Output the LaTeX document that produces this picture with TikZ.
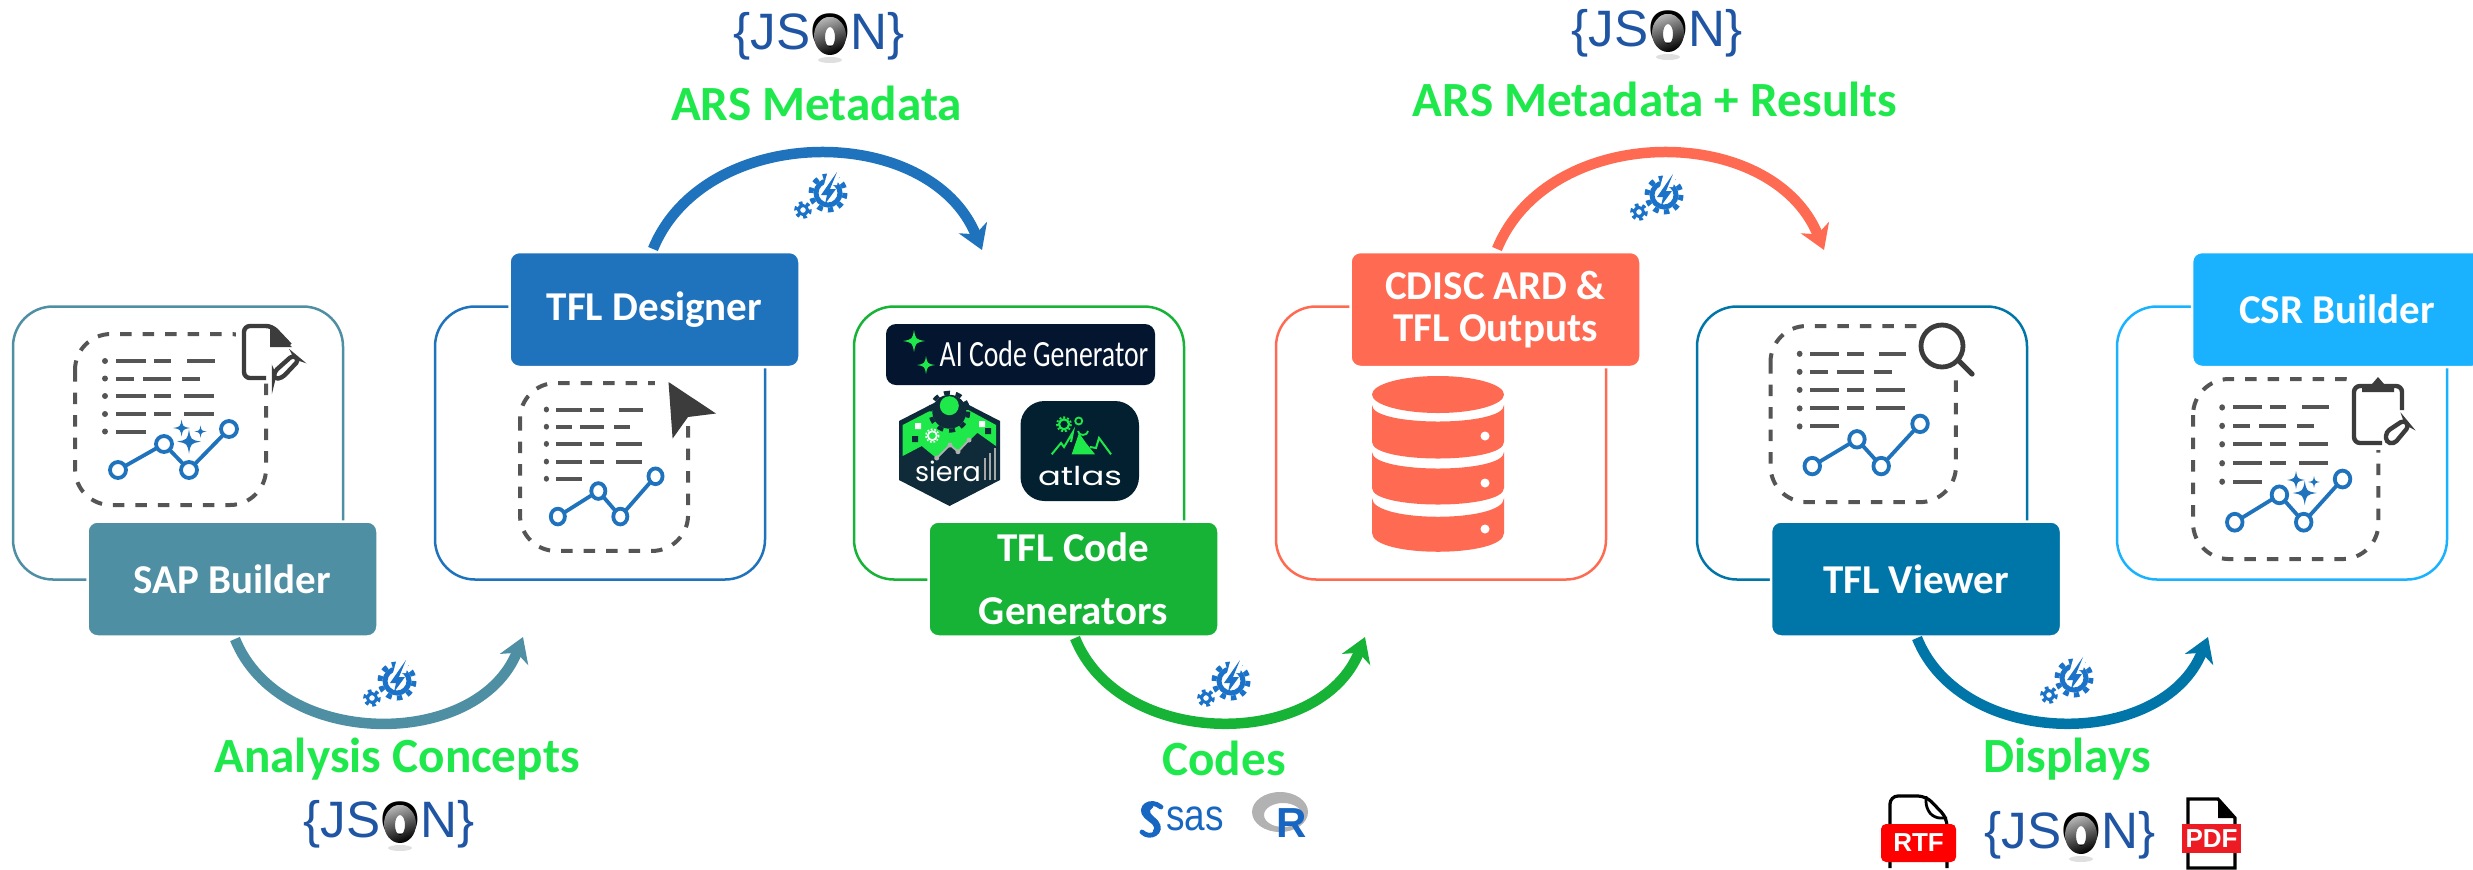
\documentclass[tikz,border=0pt]{standalone}
\usepackage{fontspec}
\setmainfont{Carlito}
\newfontfamily\jsonfont{Liberation Sans}
\newfontfamily\logofont{Poppins}
\usetikzlibrary{arrows.meta,shadings}
\definecolor{cteal}{HTML}{4E8FA3}
\definecolor{cblue}{HTML}{1F72BC}
\definecolor{cgreen}{HTML}{16B336}
\definecolor{corange}{HTML}{FF6B52}
\definecolor{cdeep}{HTML}{0075A8}
\definecolor{csky}{HTML}{1AB2FF}
\definecolor{clabel}{HTML}{1FE84C}
\definecolor{cjson}{HTML}{1F55A3}
\definecolor{cicon}{HTML}{3C3C3C}
\definecolor{cdash}{HTML}{555555}
\definecolor{cgear}{HTML}{1A73C8}
\definecolor{cmint}{HTML}{1EE84A}
\definecolor{cnavy}{HTML}{04152F}
\definecolor{csiera}{HTML}{0F2B3A}
\definecolor{catlas}{HTML}{02202F}
\definecolor{csas}{HTML}{1766C2}
\newcommand\sparkle[4]{\fill[#4] (#1,#2-#3) .. controls (#1+#3*0.15,#2-#3*0.15) .. (#1+#3,#2) .. controls (#1+#3*0.15,#2+#3*0.15) .. (#1,#2+#3) .. controls (#1-#3*0.15,#2+#3*0.15) .. (#1-#3,#2) .. controls (#1-#3*0.15,#2-#3*0.15) .. cycle;}
\newcommand\dbband[3]{\fill[corange] (1372,#1) -- (1372,#2) .. controls (1372,#2+#3) and (1504,#2+#3) .. (1504,#2) -- (1504,#1) .. controls (1504,#1+#3) and (1372,#1+#3) .. cycle;}
\tikzset{
  x=0.5pt,y=-0.5pt,
  framebox/.style={draw=#1,line width=1.25pt,rounded corners=20pt,minimum width=165pt,minimum height=136.5pt,inner sep=0pt,outer sep=0pt},
  labelbox/.style={fill=#1,draw=white,line width=1.25pt,rounded corners=5pt,minimum width=145pt,minimum height=57.5pt,inner sep=0pt,text=white,font=\fontsize{20.5}{21}\selectfont\bfseries,align=center},
  flowlabel/.style={text=clabel,font=\fontsize{24.6}{26}\selectfont\bfseries,inner sep=0pt,anchor=base},
  jsontext/.style={text=cjson,font=\jsonfont\fontsize{25.6}{28}\selectfont,inner sep=0pt},
  flowarrow/.style={draw=#1,line width=5.25pt,-{Stealth[length=12pt,width=15pt,inset=3.5pt]}},
  jsonring/.pic={
    \fill[gray!25] (11,24) circle[x radius=12,y radius=3];
    \shade[even odd rule,top color=gray!60,bottom color=black,shading angle=20] (11,0) circle[x radius=16,y radius=19] (11,1) circle[x radius=5,y radius=10];
  },
  docicon/.pic={
    \draw[cdash,line width=2pt,dash pattern=on 5.75pt off 5.5pt,rounded corners=18pt] (0,0) rectangle (191,171);
    \fill[cdash] (30,27) circle[radius=3] (30,44.5) circle[radius=3] (30,62) circle[radius=3] (30,80) circle[radius=3] (30,97.5) circle[radius=3];
    \draw[cdash,line width=2pt] (41,27)--(71,27) (79,27)--(96,27) (112,27)--(140,27)
      (41,44.5)--(59,44.5) (68,44.5)--(96,44.5) (107,44.5)--(125,44.5)
      (41,62)--(71,62) (79,62)--(96,62) (109,62)--(139,62)
      (41,80)--(71,80) (79,80)--(96,80) (109,80)--(139,80)
      (41,97.5)--(71,97.5);
    \draw[cblue,line width=1.9pt] (43,136)--(89,110)--(114,136)--(154,95);
    \foreach \p in {(43,136),(89,110),(114,136),(154,95)} \draw[cblue,line width=1.9pt,fill=white] \p circle[radius=8];
  },
  gearicon/.pic={
    \draw[cgear,line width=2.5pt] (0,0) circle[radius=12];
    \draw[cgear,line width=2.5pt,dash pattern=on 2.67pt off 2.67pt] (0,0) circle[radius=17];
    \fill[white] (1,-26) -- (14,-26) -- (9,-8) -- (-4,-8) -- cycle;
    \fill[cgear] (9,-21) -- (-7,2) -- (-1,2) -- (-3,11) -- (8,-4) -- (2,-4) -- cycle;
    \draw[cgear,line width=1.5pt] (-25,17) circle[radius=4.5];
    \draw[cgear,line width=1.8pt,dash pattern=on 1.8pt off 1.8pt] (-25,17) circle[radius=7];
  },
}
\begin{document}
\begin{tikzpicture}
\useasboundingbox (0,0) rectangle (2473,869);
\coordinate (a1s) at (235,639); \coordinate (a1e) at (523,637);
\coordinate (a2s) at (653,249); \coordinate (a2e) at (982,250);
\coordinate (a3s) at (1075,638); \coordinate (a3e) at (1365,637);
\coordinate (a4s) at (1497,249); \coordinate (a4e) at (1824,250);
\coordinate (a5s) at (1917,638); \coordinate (a5e) at (2208,637);
% frames
\node[framebox=cteal] (f1) at (178,443) {};
\node[framebox=cblue] (f2) at (600,443) {};
\node[framebox=cgreen] (f3) at (1019,443) {};
\node[framebox=corange] (f4) at (1441,443) {};
\node[framebox=cdeep] (f5) at (1862,443) {};
\node[framebox=csky] (f6) at (2282,443) {};
% report icons
\pic at (75,334) {docicon};
\sparkle{189}{441.6}{12}{cblue}\sparkle{181.6}{428}{8.5}{cblue}\sparkle{200.5}{431.5}{6}{cblue}
\fill[white] (236,322) rectangle (304,382);
\draw[cicon,line width=2.2pt,rounded corners=3pt] (266,378) -- (244,378) -- (244,326) -- (272,326) -- (290,345);
\fill[cicon] (270,325) -- (292,347) -- (270,347) -- cycle;
\draw[cicon,line width=2.2pt,rounded corners=2pt] (274,372) -- (293,355) -- (299,360) -- (282,378) -- (274,379) -- cycle;
\pic[xscale=0.88,yscale=0.982] at (520,383) {docicon};
\fill[white] (655,372) rectangle (720,420);
\fill[cicon] (668.5,382) -- (716,413.5) -- (688,417) -- (672.6,438.6) -- cycle;
\pic[xscale=0.971,yscale=1.03] at (1770.5,326) {docicon};
\fill[white] (1925,322) rectangle (1978,376);
\draw[cicon,line width=2.4pt] (1942,346) circle[radius=21];
\draw[cicon,line width=2.6pt,line cap=round] (1959,361) -- (1972,374);
\pic[xscale=0.971,yscale=1.053] at (2193,379) {docicon};
\sparkle{2304.7}{493}{12}{cblue}\sparkle{2296}{480}{9}{cblue}\sparkle{2314}{482}{6}{cblue}
\fill[white] (2348,372) rectangle (2412,450);
\draw[cicon,line width=2.2pt,rounded corners=3pt] (2402,410) -- (2402,386) -- (2354,386) -- (2354,443) -- (2382,443);
\fill[cicon] (2362,392) -- (2362,386) -- (2372,384) -- (2378,377) -- (2384,384) -- (2394,386) -- (2394,392) -- cycle;
\draw[cicon,line width=2.2pt,rounded corners=2pt] (2386,442) -- (2386,432) -- (2404,420) -- (2409,426) -- (2394,444) -- cycle;
% generators panel
\node[fill=cnavy,inner sep=0pt,rounded corners=5pt,minimum width=134.5pt,minimum height=30.5pt] (aicode) at (1020.5,354.5) {};
\node[inner sep=0pt,text=white,font=\fontsize{18.5}{20}\selectfont] (aitext) at (1044,354) {\scalebox{0.75}[1]{AI Code Generator}};
\sparkle{914}{341}{11}{cmint}\sparkle{926}{365}{9}{cmint}
% siera
\fill[csiera] (949.5,395) -- (1000,421) -- (1000,480) -- (949.5,506) -- (899,480) -- (899,421) -- cycle;
\fill[cmint] (902.7,425) -- (931.7,410) -- (968.3,410) -- (996,425) -- (996,446) -- (977.3,432.7) -- (958.3,451.7) -- (950,445) -- (936.7,458.3) -- (921.7,446) -- (902.7,456) -- cycle;
\fill[csiera] (949.3,411.7) circle[radius=17];
\draw[csiera,line width=2pt,dash pattern=on 3pt off 3pt] (949.3,411.7) circle[radius=19];
\fill[cmint] (949.3,405.7) circle[radius=9.5];
\fill[white] (915,423) rectangle (921,429) (979,421) rectangle (985,427);
\fill[csiera] (912,436) rectangle (918,442) (985,428) rectangle (991,434);
\draw[white,line width=0.9pt] (932.3,435.7) circle[radius=4.5];
\draw[white,line width=0.7pt,dash pattern=on 0.9pt off 0.9pt] (932.3,435.7) circle[radius=6.5];
\draw[gray!60,line width=0.9pt] (936.7,458) -- (950,445) -- (958,451.7) -- (969,440);
\foreach \p in {(936.7,458),(950,445),(958,451.7),(969,440)} \fill[gray!60] \p circle[radius=2.5];
\node[text=white,inner sep=0pt,font=\logofont\fontsize{13.5}{14}\selectfont] (siera) at (948,471) {siera};
\draw[gray!70,line width=0.7pt] (985,480) -- (985,458) (990,480) -- (990,453) (995,480) -- (995,448);
% atlas
\node[fill=catlas,inner sep=0pt,rounded corners=12pt,minimum width=59.25pt,minimum height=50pt] (atlasbox) at (1079.75,451) {};
\fill[cmint] (1071.7,454.3) -- (1079,433) -- (1086,443) -- (1095,454.3) -- cycle;
\draw[cmint,line width=1pt] (1051.7,454.3) -- (1061,443) -- (1064,447) -- (1073,432) -- (1071,442);
\draw[cmint,line width=1pt] (1090,447) -- (1096,448) -- (1099,438) -- (1111,454.3);
\draw[cmint,line width=1.1pt] (1064,424.3) circle[radius=5];
\draw[cmint,line width=0.9pt,dash pattern=on 1pt off 1pt] (1064,424.3) circle[radius=7];
\draw[cmint,line width=0.9pt] (1078.7,421) circle[radius=3.5];
\draw[cmint,line width=0.9pt] (1078,431) arc[start angle=180,end angle=360,x radius=5,y radius=-4];
\node[text=white,inner sep=0pt,font=\logofont\fontsize{13}{14}\selectfont] (atlas) at (1080,476) {\scalebox{1.3}[1]{atlas}};
% database
\fill[corange] (1438,394.5) circle[x radius=66,y radius=18.5];
\dbband{405}{442}{22}
\dbband{452}{488}{22}
\dbband{498}{533}{25}
\fill[white] (1485,436) circle[radius=4.5] (1485,483) circle[radius=4.5] (1485,529) circle[radius=4.5];
% label boxes
\node[labelbox=cteal] (sap) at (232.5,579) {SAP Builder};
\node[labelbox=cblue] (designer) at (654.5,309.5) {TFL Designer};
\node[labelbox=cgreen,font=\fontsize{20.5}{31.5}\selectfont\bfseries] (codegen) at (1073.5,579) {TFL Code\\Generators};
\node[labelbox=corange] (cdisc) at (1495.5,309.5) {CDISC ARD \&\\TFL Outputs};
\node[labelbox=cdeep] (viewer) at (1916,579) {TFL Viewer};
\node[labelbox=csky] (csr) at (2337,309.5) {CSR Builder};
% connectors
\draw[flowarrow=cteal] (a1s) .. controls (280,750) and (478,750) .. (a1e);
\draw[flowarrow=cblue] (a2s) .. controls (705,122) and (930,122) .. (a2e);
\draw[flowarrow=cgreen] (a3s) .. controls (1120,750) and (1320,750) .. (a3e);
\draw[flowarrow=corange] (a4s) .. controls (1549,122) and (1772,122) .. (a4e);
\draw[flowarrow=cdeep] (a5s) .. controls (1962,750) and (2163,750) .. (a5e);
% gears
\pic at (397,681) {gearicon};
\pic at (828,193) {gearicon};
\pic at (1231,681) {gearicon};
\pic at (1664,195) {gearicon};
\pic at (2074,678) {gearicon};
% flow labels
\node[flowlabel] (l1) at (397,772) {Analysis Concepts};
\node[flowlabel] (l2) at (816.5,120.5) {ARS Metadata};
\node[flowlabel] (l3) at (1224,775) {Codes};
\node[flowlabel] (l4) at (1655,116.7) {ARS Metadata + Results};
\node[flowlabel] (l5) at (2067,772) {Displays};
% JSON logos
\node[jsontext] (j1) at (389,824) {\{JS\textcolor{black}{O}N\}};
\pic at (389,824) {jsonring};
\node[jsontext] (j2) at (819,36) {\{JS\textcolor{black}{O}N\}};
\pic at (819,36) {jsonring};
\node[jsontext] (j3) at (1657,33) {\{JS\textcolor{black}{O}N\}};
\pic at (1657,33) {jsonring};
\node[jsontext] (j4) at (2070,835) {\{JS\textcolor{black}{O}N\}};
\pic at (2070,835) {jsonring};
% SAS and R
\draw[csas,line width=2.4pt,line cap=round] (1161,807) .. controls (1150,798) and (1138,808) .. (1146,816) .. controls (1152,822) and (1160,824) .. (1155,832);
\draw[csas,line width=2.4pt,line cap=round] (1142,832) .. controls (1150,840) and (1164,832) .. (1156,822) .. controls (1150,816) and (1143,812) .. (1151,806);
\node[text=csas,inner sep=0pt,anchor=base west,font=\jsonfont\fontsize{22}{24}\selectfont] (sas) at (1166,830) {\scalebox{0.84}[1]{sas}};
\fill[even odd rule,gray!60] (1280,812) circle[x radius=28,y radius=20] (1283,815) circle[x radius=19,y radius=12];
\node[text=csas,inner sep=0pt,anchor=base,font=\jsonfont\bfseries\fontsize{21}{22}\selectfont] (rlogo) at (1292,837) {R};
% RTF and PDF
\draw[black,line width=1.6pt,rounded corners=4pt] (1890,868) -- (1890,796) -- (1926,796) -- (1947,818) -- (1947,868);
\draw[black,line width=1.4pt,rounded corners=3pt] (1926,796) -- (1926,808) -- (1934,818) -- (1947,818);
\node[fill=red,rounded corners=2.5pt,inner sep=0pt,minimum width=37.5pt,minimum height=19pt,text=white,font=\jsonfont\bfseries\fontsize{13}{14}\selectfont] (rtf) at (1918.5,843) {RTF};
\draw[black,line width=1.6pt] (2188,868) -- (2188,799) -- (2218,799) -- (2235,818) -- (2235,868) -- cycle;
\fill[black] (2218,799) -- (2236,818) -- (2218,818) -- cycle;
\node[fill={rgb,255:red,237;green,28;blue,36},inner sep=0pt,minimum width=29.5pt,minimum height=14.5pt,text=white,font=\jsonfont\bfseries\fontsize{13}{14}\selectfont] (pdf) at (2211.5,838.5) {PDF};
\end{tikzpicture}
\end{document}
